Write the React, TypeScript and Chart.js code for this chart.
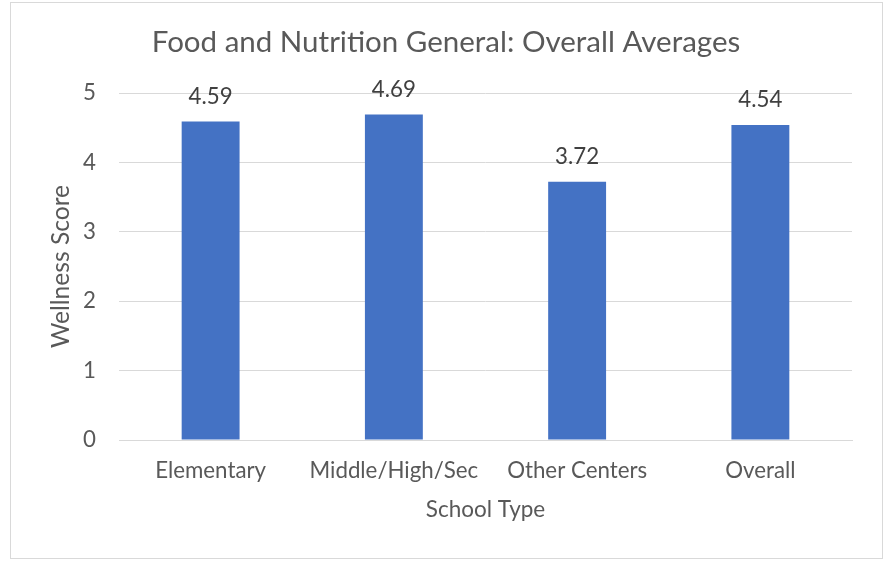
import React, { useEffect, useRef } from "react";
import { Chart, registerables } from "chart.js";

Chart.register(...registerables);

const categories = ["Elementary", "Middle/High/Sec", "Other Centers", "Overall"];
const scores = [4.59, 4.69, 3.72, 4.54];
const yTicks = [0, 1, 2, 3, 4, 5];
const chartTitle = "Food and Nutrition General: Overall Averages";
const xTitle = "School Type";
const yTitle = "Wellness Score";

const FONT = "Lato, 'Open Sans', sans-serif";

const labelPlugin = {
  id: "barValueLabels",
  afterDatasetsDraw(chart: any) {
    const ctx = chart.ctx;
    const meta = chart.getDatasetMeta(0);
    ctx.save();
    ctx.font = `22.3px ${FONT}`;
    ctx.fillStyle = "#404040";
    ctx.textAlign = "center";
    ctx.textBaseline = "middle";
    meta.data.forEach((el: any, i: number) => {
      const v = chart.data.datasets[0].data[i] as number;
      ctx.fillText(v.toFixed(2), el.x, el.y - 25);
    });
    ctx.restore();
  },
};

export default function App() {
  const ref = useRef<HTMLCanvasElement | null>(null);
  useEffect(() => {
    if (!ref.current) return;
    const chart = new Chart(ref.current, {
      type: "bar",
      data: {
        labels: categories,
        datasets: [
          {
            data: scores,
            backgroundColor: "#4472C4",
            borderWidth: 0,
            categoryPercentage: 1,
            barPercentage: 0.316,
          },
        ],
      },
      options: {
        animation: false,
        responsive: false,
        maintainAspectRatio: false,
        layout: { padding: { left: 40, right: 36, top: 0, bottom: 0 } },
        plugins: {
          legend: { display: false },
          tooltip: { enabled: false },
          title: {
            display: true,
            text: chartTitle,
            color: "#595959",
            font: { family: FONT, size: 29.5, weight: "normal", lineHeight: 1.2 },
            padding: { top: 24.8, bottom: 32.8 },
          },
        },
        scales: {
          x: {
            grid: { display: false, drawTicks: false },
            border: { display: true, color: "#d9d9d9", width: 1 },
            ticks: {
              color: "#595959",
              font: { family: FONT, size: 22.3, lineHeight: 1.2 },
              padding: 17,
              maxRotation: 0,
              autoSkip: false,
            },
            title: {
              display: true,
              text: xTitle,
              color: "#595959",
              font: { family: FONT, size: 22.5, lineHeight: 1.2 },
              padding: { top: 0, bottom: 37.5 },
            },
            afterFit(scale: any) {
              scale.height = 121;
            },
          },
          y: {
            min: 0,
            max: 5,
            grid: { color: "#d9d9d9", lineWidth: 1, drawTicks: false },
            border: { display: false },
            afterBuildTicks(scale: any) {
              scale.ticks = yTicks.map((v) => ({ value: v }));
            },
            ticks: {
              color: "#595959",
              font: { family: FONT, size: 22.3, lineHeight: 1.2 },
              padding: 23,
            },
            title: {
              display: true,
              text: yTitle,
              color: "#595959",
              font: { family: FONT, size: 24.6, lineHeight: 1.2 },
              padding: { top: 6.2, bottom: 0 },
            },
            afterFit(scale: any) {
              scale.width = 79;
            },
          },
        },
      },
      plugins: [labelPlugin],
    });
    return () => chart.destroy();
  }, []);

  return (
    <div style={{ position: "absolute", left: 0, top: 0, width: 888, height: 561, background: "#fff" }}>
      <canvas ref={ref} width={888} height={561} style={{ display: "block", width: 888, height: 561 }} />
      <div
        style={{
          position: "absolute",
          left: 10,
          top: 2,
          width: 871,
          height: 555,
          border: "1px solid #d9d9d9",
          pointerEvents: "none",
        }}
      />
    </div>
  );
}
